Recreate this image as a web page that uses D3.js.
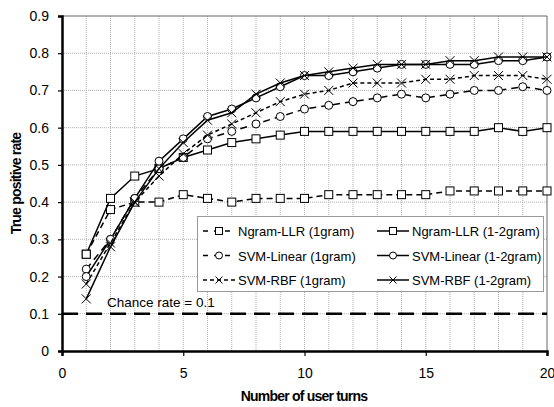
<!DOCTYPE html>
<html>
<head>
<meta charset="utf-8">
<script src="https://cdn.jsdelivr.net/npm/d3@7"></script>
<style>
  body { margin: 0; background: #fff; }
  text { font-family: "Liberation Sans", Arial, sans-serif; }
</style>
</head>
<body>
<div id="viz"></div>
<script>
var turns = d3.range(1, 21);
var ngramUni = [0.26,0.38,0.40,0.40,0.42,0.41,0.40,0.41,0.41,0.41,0.42,0.42,0.42,0.42,0.42,0.43,0.43,0.43,0.43,0.43];
var ngramBi  = [0.26,0.41,0.47,0.49,0.52,0.54,0.56,0.57,0.58,0.59,0.59,0.59,0.59,0.59,0.59,0.59,0.59,0.60,0.59,0.60];
var linUni   = [0.22,0.30,0.41,0.49,0.52,0.57,0.59,0.61,0.63,0.65,0.66,0.67,0.68,0.69,0.68,0.69,0.70,0.70,0.71,0.70];
var linBi    = [0.20,0.30,0.41,0.51,0.57,0.63,0.65,0.68,0.71,0.74,0.74,0.75,0.76,0.77,0.77,0.77,0.77,0.78,0.78,0.79];
var rbfUni   = [0.18,0.29,0.40,0.47,0.53,0.58,0.61,0.64,0.67,0.69,0.70,0.72,0.72,0.72,0.73,0.73,0.74,0.74,0.74,0.73];
var rbfBi    = [0.14,0.28,0.40,0.49,0.56,0.62,0.64,0.69,0.72,0.74,0.75,0.76,0.77,0.77,0.77,0.78,0.78,0.79,0.79,0.79];
var seriesNames = ["Ngram-LLR (1gram)", "Ngram-LLR (1-2gram)", "SVM-Linear (1gram)", "SVM-Linear (1-2gram)", "SVM-RBF (1gram)", "SVM-RBF (1-2gram)"];
var chanceRate = 0.1;
var xTicks = [0, 5, 10, 15, 20];
var yTicks = [0, 0.1, 0.2, 0.3, 0.4, 0.5, 0.6, 0.7, 0.8, 0.9];

var W = 554, H = 407;
var plotL = 62, plotR = 547, plotT = 16, plotB = 351;

var svg = d3.select("#viz").append("svg")
    .attr("width", W)
    .attr("height", H);

var x = d3.scaleLinear().domain([0, 20]).range([plotL, plotR]);
var y = d3.scaleLinear().domain([0, 0.9]).range([plotB, plotT]);

// dotted grid
svg.append("g").selectAll("line").data(d3.range(1, 20)).enter().append("line")
    .attr("x1", function(d){ return x(d); }).attr("x2", function(d){ return x(d); })
    .attr("y1", plotT).attr("y2", plotB)
    .attr("stroke", "#b0b0b0").attr("stroke-dasharray", "1,1");
svg.append("g").selectAll("line").data(yTicks.slice(1, 9)).enter().append("line")
    .attr("x1", plotL).attr("x2", plotR)
    .attr("y1", function(d){ return y(d); }).attr("y2", function(d){ return y(d); })
    .attr("stroke", "#b0b0b0").attr("stroke-dasharray", "1,1");

// top/right border
svg.append("path")
    .attr("d", "M" + plotL + "," + plotT + "H" + plotR + "V" + plotB)
    .attr("fill", "none").attr("stroke", "#666").attr("stroke-width", 1);

// chance line
svg.append("line")
    .attr("x1", plotL).attr("x2", plotR)
    .attr("y1", y(chanceRate)).attr("y2", y(chanceRate))
    .attr("stroke", "#000").attr("stroke-width", 2.5).attr("stroke-dasharray", "16,8");
svg.append("text")
    .attr("x", 107).attr("y", y(chanceRate) - 7)
    .attr("font-size", 13.5).text("Chance rate = " + chanceRate);

// axes
var xAxis = svg.append("g").attr("transform", "translate(0," + plotB + ")")
    .call(d3.axisBottom(x).tickValues(xTicks).tickSize(5).tickPadding(12).tickFormat(d3.format("d")));
var yAxis = svg.append("g").attr("transform", "translate(" + plotL + ",0)")
    .call(d3.axisLeft(y).tickValues(yTicks).tickSize(4).tickPadding(9).tickFormat(function(d){ return d === 0 ? "0" : d3.format(".1f")(d); }));
[xAxis, yAxis].forEach(function(a){
    a.select(".domain").attr("stroke", "#000").attr("stroke-width", 2.5);
    a.selectAll(".tick line").attr("stroke", "#000").attr("stroke-width", 1.2);
    a.selectAll(".tick text").attr("font-size", 14).attr("fill", "#000")
        .attr("font-family", "'Liberation Sans', Arial, sans-serif");
});

// axis titles
svg.append("text")
    .attr("x", 304).attr("y", 401)
    .attr("text-anchor", "middle").attr("font-size", 14).attr("font-weight", "bold")
    .attr("letter-spacing", "-0.8px")
    .text("Number of user turns");
svg.append("text")
    .attr("transform", "translate(21," + ((plotT + plotB) / 2) + ") rotate(-90)")
    .attr("text-anchor", "middle").attr("font-size", 14).attr("font-weight", "bold")
    .attr("letter-spacing", "-0.8px")
    .text("True positive rate");

// markers
function marker(g, shape, cx, cy, s) {
    if (shape == "square") {
        g.append("rect").attr("x", cx - s/2).attr("y", cy - s/2).attr("width", s).attr("height", s)
            .attr("fill", "#fff").attr("stroke", "#000").attr("stroke-width", 1);
    } else if (shape == "circle") {
        g.append("circle").attr("cx", cx).attr("cy", cy).attr("r", s/2)
            .attr("fill", "#fff").attr("stroke", "#000").attr("stroke-width", 1);
    } else {
        var h = s/2;
        g.append("path")
            .attr("d", "M" + (cx-h) + "," + (cy-h) + "L" + (cx+h) + "," + (cy+h) + "M" + (cx-h) + "," + (cy+h) + "L" + (cx+h) + "," + (cy-h))
            .attr("stroke", "#000").attr("stroke-width", 1).attr("fill", "none");
    }
}

var series = [
    { name: seriesNames[0], values: ngramUni, shape: "square", dash: "6,4" },
    { name: seriesNames[1], values: ngramBi,  shape: "square", dash: null },
    { name: seriesNames[2], values: linUni,   shape: "circle", dash: "7,5" },
    { name: seriesNames[3], values: linBi,    shape: "circle", dash: null },
    { name: seriesNames[4], values: rbfUni,   shape: "cross",  dash: "4,3" },
    { name: seriesNames[5], values: rbfBi,    shape: "cross",  dash: null }
];

var line = d3.line()
    .x(function(d, i){ return x(turns[i]); })
    .y(function(d){ return y(d); });

series.forEach(function(s){
    var g = svg.append("g");
    g.append("path").datum(s.values)
        .attr("d", line)
        .attr("fill", "none").attr("stroke", "#000").attr("stroke-width", 1.5)
        .attr("stroke-dasharray", s.dash);
    s.values.forEach(function(v, i){
        marker(g, s.shape, x(turns[i]), y(v), s.shape == "cross" ? 9 : 8);
    });
});

// legend
var lg = svg.append("g");
lg.append("rect")
    .attr("x", 197.5).attr("y", 216.5).attr("width", 346).attr("height", 75)
    .attr("fill", "#fff").attr("stroke", "#999");
series.forEach(function(s, i){
    var col = i % 2, row = Math.floor(i / 2);
    var sx = col == 0 ? 203 : 377;
    var cy = 231 + row * 24.5;
    lg.append("line")
        .attr("x1", sx).attr("x2", sx + 32).attr("y1", cy).attr("y2", cy)
        .attr("stroke", "#000").attr("stroke-width", 1.5)
        .attr("stroke-dasharray", col == 0 ? (row == 2 ? "4,3" : "5,6") : null);
    marker(lg, s.shape, sx + 16, cy, 7);
    lg.append("text")
        .attr("x", sx + 35).attr("y", cy + 5)
        .attr("font-size", 13).text(s.name);
});
</script>
</body>
</html>
